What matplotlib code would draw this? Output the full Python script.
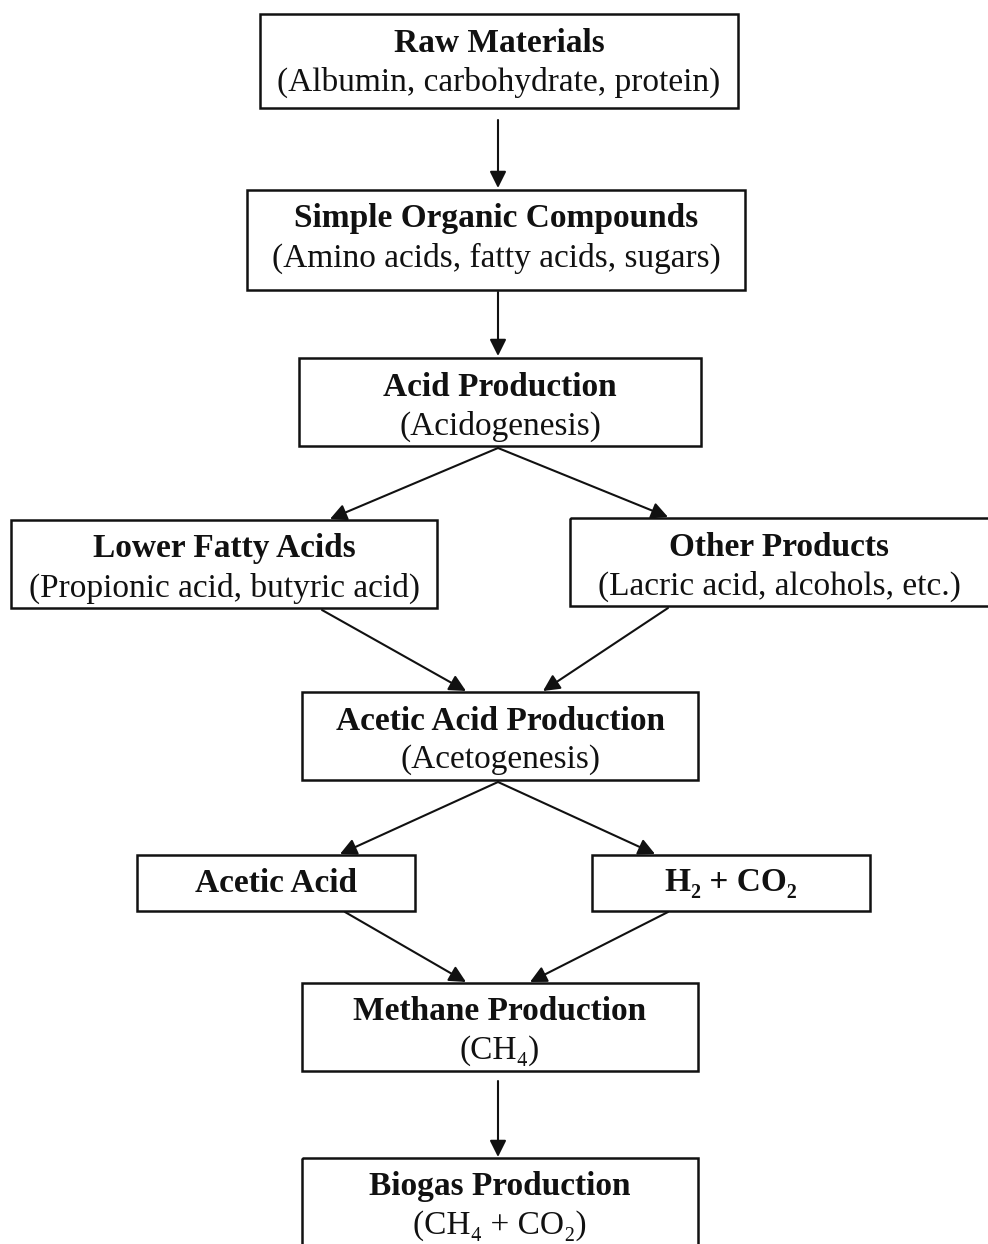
import matplotlib
matplotlib.use("Agg")
import matplotlib.pyplot as plt
from matplotlib.patches import Rectangle, FancyArrowPatch

W, H = 988, 1244
FONT = ['Liberation Serif', 'DejaVu Serif']

# --- content ---
titles = ["Raw Materials", "Simple Organic Compounds", "Acid Production",
          "Lower Fatty Acids", "Other Products", "Acetic Acid Production",
          "Acetic Acid", "H\u2082 + CO\u2082", "Methane Production", "Biogas Production"]
subtitles = ["(Albumin, carbohydrate, protein)", "(Amino acids, fatty acids, sugars)",
             "(Acidogenesis)", "(Propionic acid, butyric acid)",
             "(Lacric acid, alcohols, etc.)", "(Acetogenesis)", "", "",
             "(CH\u2084)", "(CH\u2084 + CO\u2082)"]
edges = [(0, 1), (1, 2), (2, 3), (2, 4), (3, 5), (4, 5), (5, 6), (5, 7), (6, 8), (7, 8), (8, 9)]

# --- layout (pixel coords: x0, y0, x1, y1) ---
boxes = [(260, 14, 738, 108), (247, 190, 745, 290), (299, 358, 701, 446),
         (11, 520, 437, 608), (570, 518, 990, 606), (302, 692, 698, 780),
         (137, 855, 415, 911), (592, 855, 870, 911), (302, 983, 698, 1071),
         (302, 1158, 698, 1250)]
# arrow endpoints (start, end) per edge
arrows = [((498, 120), (498, 188)), ((498, 292), (498, 356)),
          ((498, 448), (330, 519)), ((498, 448), (668, 517)),
          ((322, 610), (466, 691)), ((668, 608), (543, 691)),
          ((498, 782), (340, 854)), ((498, 782), (655, 854)),
          ((345, 912), (466, 982)), ((668, 912), (530, 982)),
          ((498, 1081), (498, 1157))]

fig = plt.figure(figsize=(W / 100, H / 100), dpi=100)
ax = fig.add_axes([0, 0, 1, 1])
ax.set_xlim(0, W)
ax.set_ylim(H, 0)
ax.axis('off')

FS = 24
for (x0, y0, x1, y1), t, s in zip(boxes, titles, subtitles):
    ax.add_patch(Rectangle((x0, y0), x1 - x0, y1 - y0, fill=False,
                           edgecolor='#111111', linewidth=1.8))
    cx = (x0 + min(x1, W)) / 2
    if s:
        ax.text(cx, y0 + 29, t, ha='center', va='center', fontsize=FS,
                fontweight='bold', family=FONT, color='#111111')
        ax.text(cx, y0 + 68, s, ha='center', va='center', fontsize=FS,
                family=FONT, color='#111111')
    else:
        ax.text(cx, (y0 + y1) / 2, t, ha='center', va='center', fontsize=FS,
                fontweight='bold', family=FONT, color='#111111')

for (p, q) in arrows:
    ax.add_patch(FancyArrowPatch(p, q, arrowstyle='-|>,head_length=10,head_width=5',
                                 mutation_scale=1, color='#111111', linewidth=1.5,
                                 shrinkA=0, shrinkB=0))

fig.savefig('out.png', dpi=100)
